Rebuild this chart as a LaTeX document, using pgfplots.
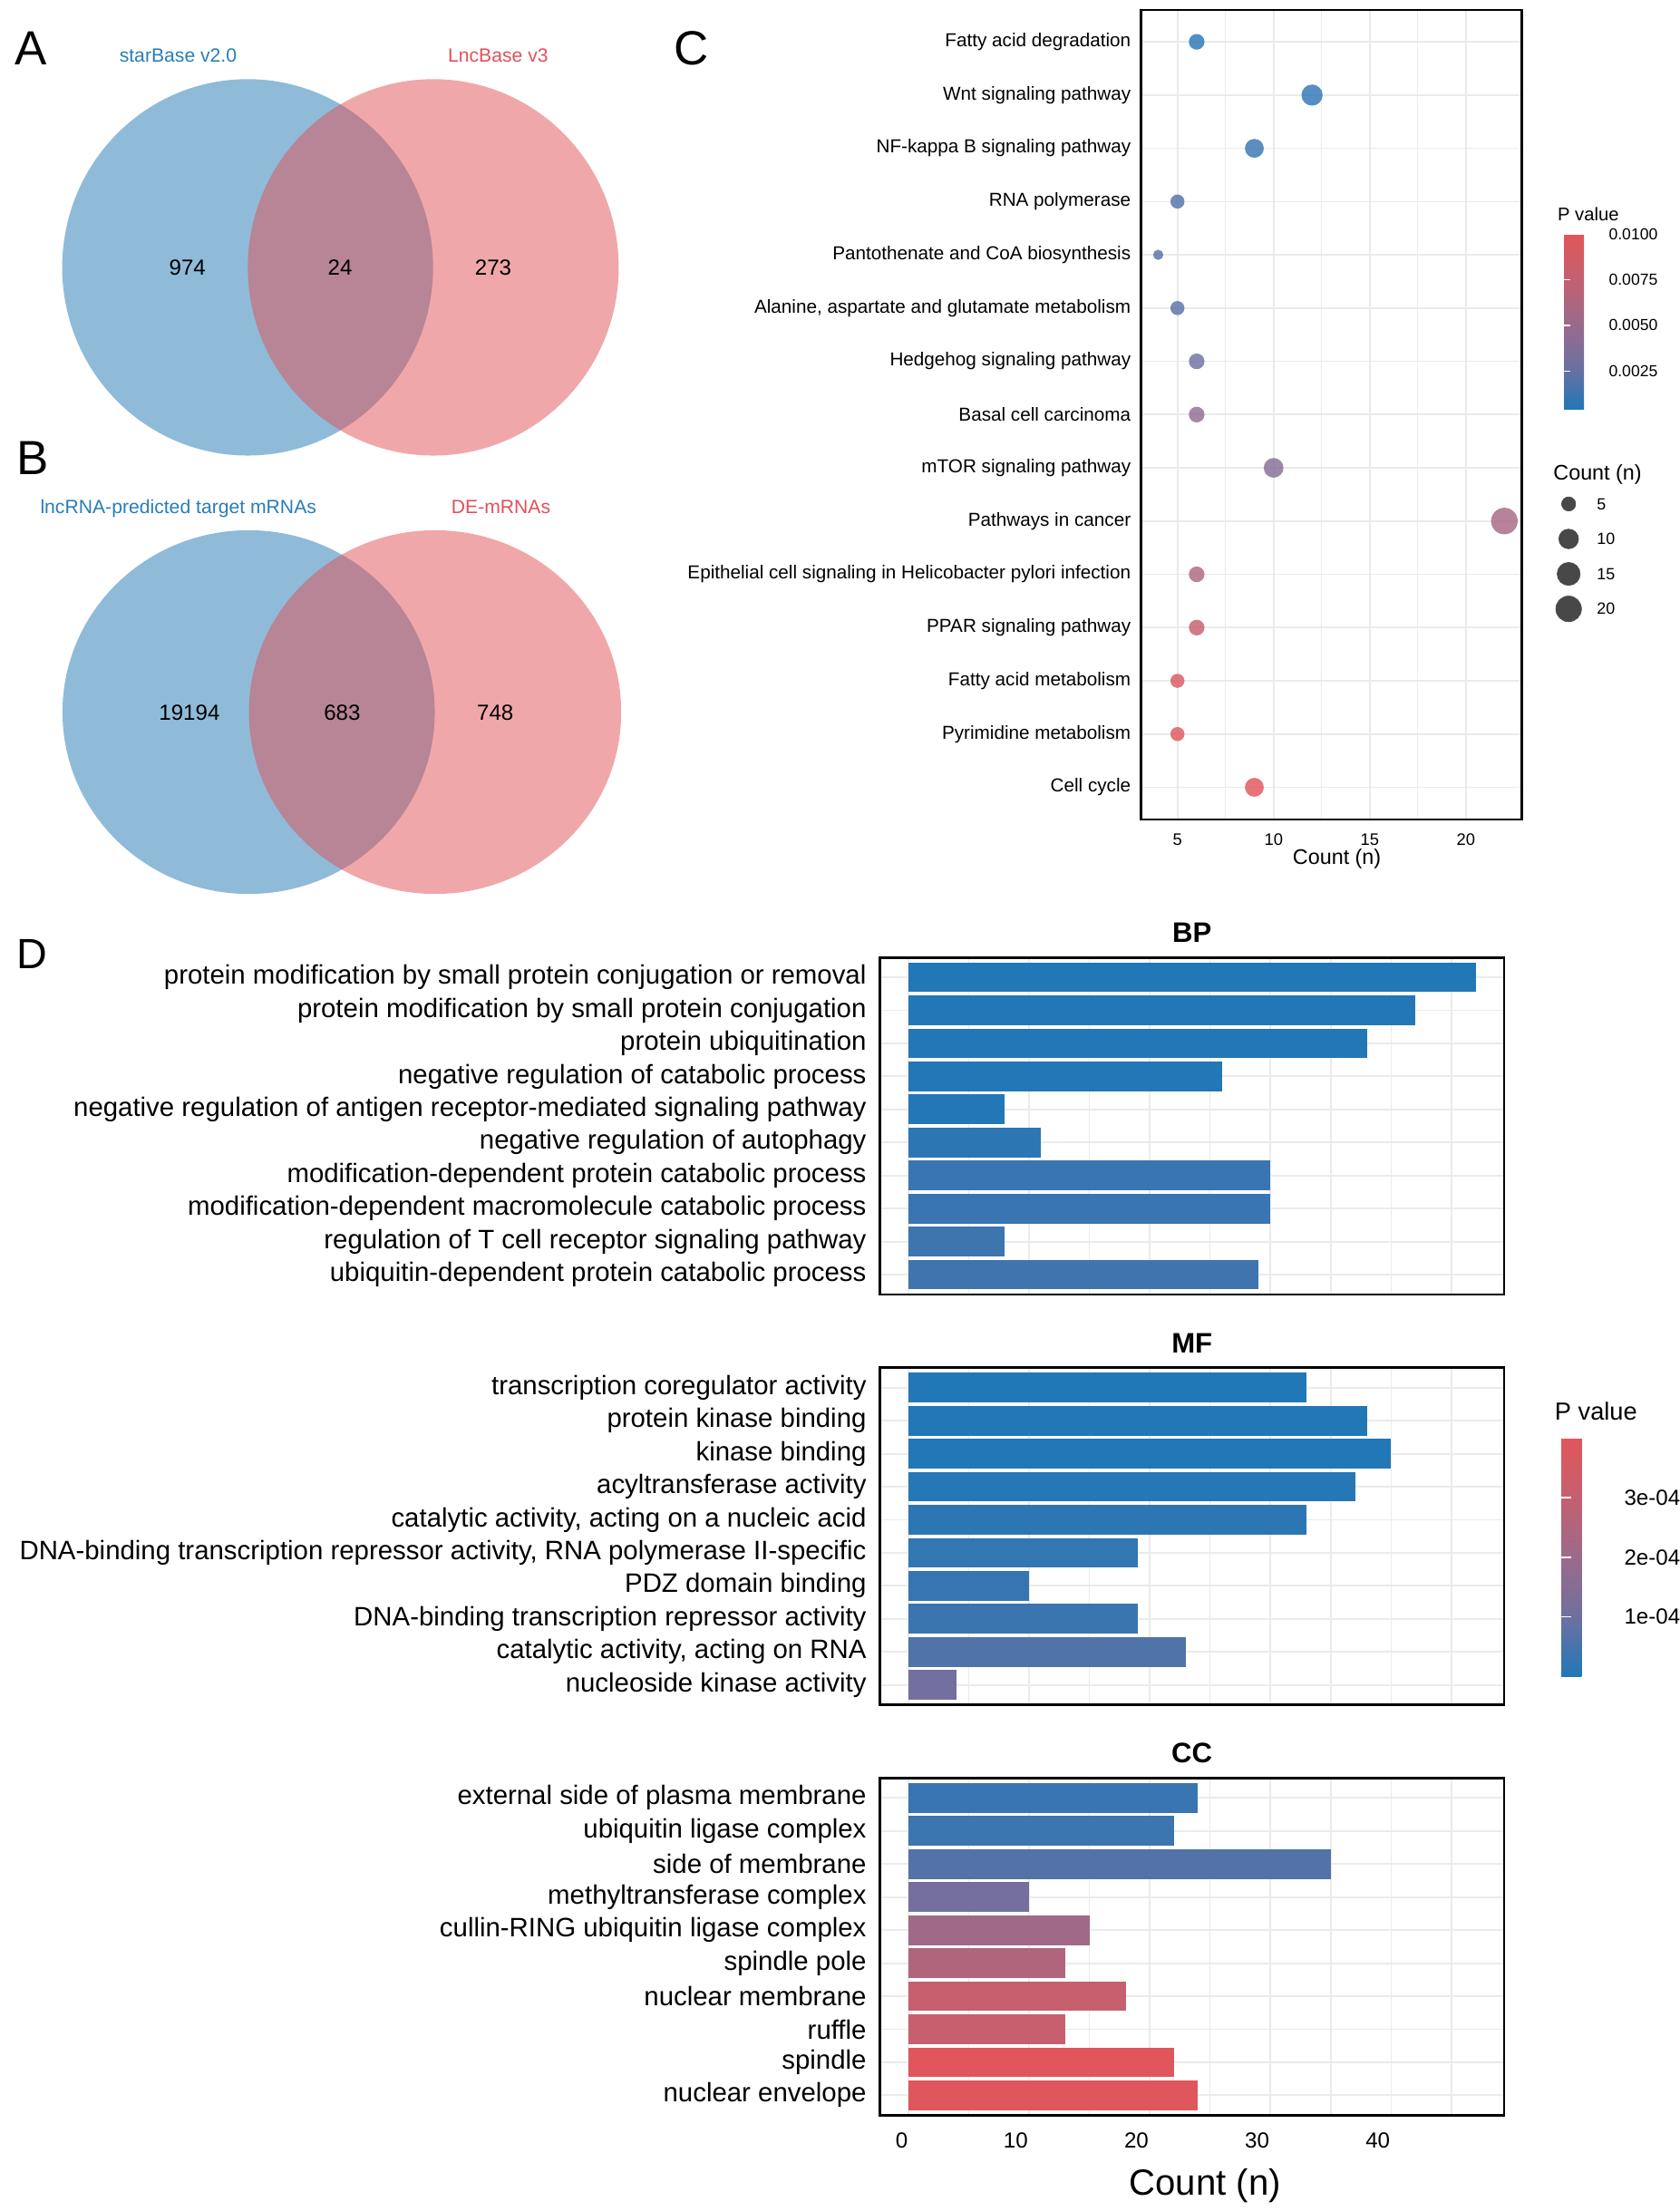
\documentclass[border=0pt]{standalone}
\usepackage{fontspec}
\setmainfont{Liberation Sans}
\usepackage{pgfplots}
\pgfplotsset{compat=1.18}
\usetikzlibrary{calc}
\newcommand{\fs}[1]{\fontsize{#1}{#1}\selectfont}
\definecolor{vblue}{RGB}{31,119,180}
\definecolor{vred}{RGB}{225,80,85}
\definecolor{tblue}{RGB}{40,125,185}
\definecolor{tred}{RGB}{225,80,90}
\definecolor{gridc}{RGB}{235,235,235}
\definecolor{legc}{RGB}{72,72,72}
\pgfplotsset{
  /pgf/number format/assume math mode=true,
  colormap={pmap}{rgb255=(34,119,183) rgb255=(110,112,160) rgb255=(156,106,138) rgb255=(196,96,112) rgb255=(226,86,90)},
  % GO bar panels
  dgo/.style={
    anchor=north west, scale only axis, width=442.5pt, height=239pt,
    xmin=-2.35, xmax=49.35, ymin=-0.6, ymax=9.6, y dir=reverse, enlargelimits=false,
    ytick={0,...,9}, xtick={0,10,20,30,40}, minor xtick={5,15,25,35,45},
    xticklabels={},
    xmajorgrids, xminorgrids, ymajorgrids,
    major grid style={draw=gridc, line width=1.2pt},
    minor grid style={draw=gridc, line width=0.8pt},
    axis line style={line width=1.8pt},
    major tick length=0pt, minor tick length=0pt,
    yticklabel shift=9.5pt,
    yticklabel style={font=\fs{18.9}, inner sep=0pt},
  },
  dbar/.style args={#1/#2/#3}{xbar, bar shift=0pt, bar width=0.9, draw=none, fill={rgb,255:red,#1;green,#2;blue,#3}},
  ksize/.style={
    visualization depends on={\thisrow{n}\as\cnt},
    scatter/@pre marker code/.append style={/tikz/mark size={3.63+5.8*sqrt((\cnt-4)/18)}},
  },
}

\begin{document}
\begin{tikzpicture}
\path[use as bounding box] (0pt,0pt) rectangle (1191pt,-1568pt);

% ---------- A and B: Venn diagrams ----------
\begin{axis}[at={(0pt,0pt)}, anchor=north west, scale only axis, width=470pt, height=650pt,
  xmin=0, xmax=470, ymin=-650, ymax=0, hide axis, clip=false]
\addplot[only marks, mark=*, mark size=131.5pt, mark options={draw opacity=0, fill=vblue, fill opacity=0.5, yscale=1.015}] coordinates {(175.6,-189.6)};
\addplot[only marks, mark=*, mark size=132pt, mark options={draw opacity=0, fill=vblue, fill opacity=0.5, yscale=0.977}] coordinates {(176.3,-505)};
\addplot[only marks, mark=*, mark size=131.5pt, mark options={draw opacity=0, fill=vred, fill opacity=0.5, yscale=1.015}] coordinates {(307.2,-189.6)};
\addplot[only marks, mark=*, mark size=132pt, mark options={draw opacity=0, fill=vred, fill opacity=0.5, yscale=0.977}] coordinates {(308.5,-505)};
\addplot[draw=none, mark=none, nodes near coords, point meta=explicit symbolic,
  nodes near coords style={anchor=center, inner sep=0pt, font=\fs{15.5}}]
  coordinates {(132.9,-190)[974] (241.1,-190)[24] (349.7,-190)[273]
               (134.3,-505.6)[19194] (242.6,-505.6)[683] (351.2,-505.6)[748]};
\end{axis}
\node[anchor=base, font=\fs{13.6}, text=tblue] at (126.3pt,-43.9pt) {starBase v2.0};
\node[anchor=base, font=\fs{13.6}, text=tred] at (353.2pt,-43.9pt) {LncBase v3};
\node[anchor=base, font=\fs{13.6}, text=tblue] at (126.5pt,-364.2pt) {lncRNA-predicted target mRNAs};
\node[anchor=base, font=\fs{13.6}, text=tred] at (355.2pt,-364.2pt) {DE-mRNAs};

% ---------- C: KEGG bubble plot ----------
\begin{axis}[
  at={(809pt,-7pt)}, anchor=north west, scale only axis, width=270pt, height=574pt,
  xmin=3.1, xmax=22.9, ymin=-0.6, ymax=14.6, y dir=reverse, enlargelimits=false,
  xtick={5,10,15,20}, xticklabels={5,10,15,20}, minor xtick={7.5,12.5,17.5},
  ytick={0,...,14},
  yticklabels={
    Fatty acid degradation,
    Wnt signaling pathway,
    NF-kappa B signaling pathway,
    RNA polymerase,
    Pantothenate and CoA biosynthesis,
    {Alanine, aspartate and glutamate metabolism},
    Hedgehog signaling pathway,
    Basal cell carcinoma,
    mTOR signaling pathway,
    Pathways in cancer,
    Epithelial cell signaling in Helicobacter pylori infection,
    PPAR signaling pathway,
    Fatty acid metabolism,
    Pyrimidine metabolism,
    Cell cycle},
  xmajorgrids, xminorgrids, ymajorgrids,
  major grid style={draw=gridc, line width=1.1pt},
  minor grid style={draw=gridc, line width=0.7pt},
  axis line style={line width=1.6pt},
  major tick length=0pt, minor tick length=0pt,
  xticklabel shift=10.2pt, yticklabel shift=7pt,
  xticklabel style={font=\fs{11.8}, inner sep=0pt},
  yticklabel style={font=\fs{13.3}, inner sep=0pt},
  colormap name=pmap, point meta min=0.0004, point meta max=0.01,
  colorbar,
  colorbar style={
    at={($(parent axis.north east)+(21.5pt,-159pt)$)}, anchor=north west,
    scale only axis, width=23.5pt, height=124.3pt, y dir=normal, grid=none,
    axis on top, axis line style={draw=none}, scaled y ticks=false,
    xtick=\empty, ytick={0.0025,0.005,0.0075,0.01},
    yticklabels={0.0025,0.0050,0.0075,0.0100},
    ytick pos=both, yticklabel pos=right, tick align=inside,
    major tick length=4.3pt, ytick style={draw=white, line width=0.8pt},
    yticklabel shift=8.1pt,
    yticklabel style={font=\fs{11.3}, inner sep=0pt},
  },
]
\addplot[scatter, only marks, mark=*, point meta=explicit,
  scatter/use mapped color={draw=mapped color, fill=mapped color, fill opacity=0.82, draw opacity=0},
  ksize]
  table[x=n, y=y, meta=p] {
y  n  p
0  6  0.0006
1  12 0.0008
2  9  0.0010
3  5  0.0019
4  4  0.0020
5  5  0.0022
6  6  0.0028
7  6  0.0045
8  10 0.0040
9  22 0.0058
10 6  0.0062
11 6  0.0078
12 5  0.0094
13 5  0.0097
14 9  0.0099
};
\end{axis}
\node[anchor=base, font=\fs{15}] at (948pt,-613pt) {Count (n)};
\node[anchor=base west, font=\fs{13}] at (1101pt,-156.4pt) {P value};
\node[anchor=base west, font=\fs{15}] at (1098pt,-340.6pt) {Count (n)};

% size legend of C
\begin{axis}[at={(1100.3pt,-345pt)}, anchor=north west, scale only axis, width=24pt, height=99.2pt,
  xmin=0, xmax=1, ymin=0, ymax=4, y dir=reverse, hide axis, clip=false]
\addplot[scatter, only marks, mark=*, point meta=explicit,
  scatter/use mapped color={draw=legc, fill=legc},
  ksize]
  table[x=x, y=y, meta=n] {
x   y   n
0.5 0.5 5
0.5 1.5 10
0.5 2.5 15
0.5 3.5 20
};
\addplot[draw=none, mark=none, nodes near coords, point meta=explicit symbolic,
  nodes near coords style={anchor=west, xshift=19.9pt, inner sep=0pt, font=\fs{11.5}}]
  coordinates {(0.5,0.5)[5] (0.5,1.5)[10] (0.5,2.5)[15] (0.5,3.5)[20]};
\end{axis}

% ---------- D: GO bar charts ----------
\begin{axis}[dgo, at={(624pt,-679pt)},
  yticklabels={
    protein modification by small protein conjugation or removal,
    protein modification by small protein conjugation,
    protein ubiquitination,
    negative regulation of catabolic process,
    negative regulation of antigen receptor-mediated signaling pathway,
    negative regulation of autophagy,
    modification-dependent protein catabolic process,
    modification-dependent macromolecule catabolic process,
    regulation of T cell receptor signaling pathway,
    ubiquitin-dependent protein catabolic process}]
\addplot[dbar=34/119/183] coordinates {(47,0)};
\addplot[dbar=34/119/183] coordinates {(42,1)};
\addplot[dbar=34/119/183] coordinates {(38,2)};
\addplot[dbar=34/119/183] coordinates {(26,3)};
\addplot[dbar=36/119/182] coordinates {(8,4)};
\addplot[dbar=45/118/180] coordinates {(11,5)};
\addplot[dbar=57/117/176] coordinates {(30,6)};
\addplot[dbar=57/117/176] coordinates {(30,7)};
\addplot[dbar=61/117/175] coordinates {(8,8)};
\addplot[dbar=64/116/174] coordinates {(29,9)};
\end{axis}

\begin{axis}[dgo, at={(624pt,-970pt)},
  yticklabels={
    transcription coregulator activity,
    protein kinase binding,
    kinase binding,
    acyltransferase activity,
    {catalytic activity, acting on a nucleic acid},
    {DNA-binding transcription repressor activity, RNA polymerase II-specific},
    PDZ domain binding,
    DNA-binding transcription repressor activity,
    {catalytic activity, acting on RNA},
    nucleoside kinase activity},
  colormap name=pmap, point meta min=0, point meta max=0.0004,
  colorbar,
  colorbar style={
    at={($(parent axis.north east)+(32.1pt,-49.7pt)$)}, anchor=north west,
    scale only axis, width=33.4pt, height=169.3pt, y dir=normal, grid=none,
    axis on top, axis line style={draw=none}, scaled y ticks=false,
    xtick=\empty, ytick={0.0001,0.0002,0.0003},
    yticklabels={1e-04,2e-04,3e-04},
    ytick pos=both, yticklabel pos=right, tick align=inside,
    major tick length=6.9pt, ytick style={draw=white, line width=1pt},
    yticklabel shift=11pt,
    yticklabel style={font=\fs{15.5}, inner sep=0pt},
  }]
\addplot[dbar=34/119/183] coordinates {(33,0)};
\addplot[dbar=34/119/183] coordinates {(38,1)};
\addplot[dbar=34/119/183] coordinates {(40,2)};
\addplot[dbar=38/119/182] coordinates {(37,3)};
\addplot[dbar=44/118/180] coordinates {(33,4)};
\addplot[dbar=50/118/178] coordinates {(19,5)};
\addplot[dbar=54/117/177] coordinates {(10,6)};
\addplot[dbar=58/117/176] coordinates {(19,7)};
\addplot[dbar=80/115/169] coordinates {(23,8)};
\addplot[dbar=115/111/158] coordinates {(4,9)};
\end{axis}

\begin{axis}[dgo, at={(624pt,-1261pt)},
  xticklabels={{\hspace*{9.6pt}0},10,20,30,40},
  xticklabel shift=12pt,
  xticklabel style={font=\fs{15.5}, inner sep=0pt, xshift=-9.5pt},
  yticklabels={
    external side of plasma membrane,
    ubiquitin ligase complex,
    side of membrane,
    methyltransferase complex,
    cullin-RING ubiquitin ligase complex,
    spindle pole,
    nuclear membrane,
    ruffle,
    spindle,
    nuclear envelope}]
\addplot[dbar=57/117/176] coordinates {(24,0)};
\addplot[dbar=61/117/175] coordinates {(22,1)};
\addplot[dbar=83/114/168] coordinates {(35,2)};
\addplot[dbar=117/111/157] coordinates {(10,3)};
\addplot[dbar=160/105/135] coordinates {(15,4)};
\addplot[dbar=176/101/125] coordinates {(13,5)};
\addplot[dbar=199/95/110] coordinates {(18,6)};
\addplot[dbar=199/95/110] coordinates {(13,7)};
\addplot[dbar=223/87/92] coordinates {(22,8)};
\addplot[dbar=223/87/92] coordinates {(24,9)};
\end{axis}

\node[anchor=base, font=\fs{20}\bfseries] at (845.2pt,-668.3pt) {BP};
\node[anchor=base, font=\fs{20}\bfseries] at (845.2pt,-959.3pt) {MF};
\node[anchor=base, font=\fs{20}\bfseries] at (845.2pt,-1250.3pt) {CC};
\node[anchor=base, font=\fs{25.8}] at (854.6pt,-1556.5pt) {Count (n)};
\node[anchor=base west, font=\fs{17.5}] at (1099pt,-1007pt) {P value};

% panel letters
\node[anchor=base west, inner sep=0pt, font=\fs{34}] at (10.3pt,-46pt) {A};
\node[anchor=base west, inner sep=0pt, font=\fs{34}] at (11.8pt,-336.3pt) {B};
\node[anchor=base west, inner sep=0pt, font=\fs{34}] at (477.8pt,-46pt) {C};
\node[anchor=base west, inner sep=0pt, font=\fs{30}] at (12pt,-686.6pt) {D};
\end{tikzpicture}
\end{document}
